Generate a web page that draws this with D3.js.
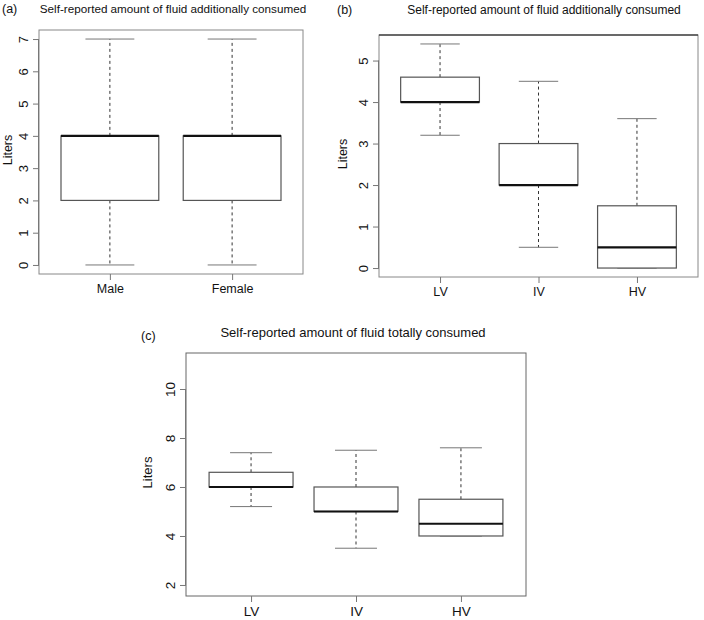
<!DOCTYPE html>
<html>
<head>
<meta charset="utf-8">
<script src="https://cdn.jsdelivr.net/npm/d3@7"></script>
<style>
  html, body { margin: 0; padding: 0; background: #fff; }
  svg text { font-family: "Liberation Sans", Arial, Helvetica, sans-serif; fill: #111; }
</style>
</head>
<body>
<svg id="chart" width="704" height="620"></svg>
<script>
// ---- Data ----
const catsA = ["Male", "Female"];
const minA = [0, 0];
const q1A  = [2, 2];
const medA = [4, 4];
const q3A  = [4, 4];
const maxA = [7, 7];
const ticksA = [0, 1, 2, 3, 4, 5, 6, 7];

const catsB = ["LV", "IV", "HV"];
const minB = [3.2, 0.5, 0];
const q1B  = [4, 2, 0];
const medB = [4, 2, 0.5];
const q3B  = [4.6, 3, 1.5];
const maxB = [5.4, 4.5, 3.6];
const ticksB = [0, 1, 2, 3, 4, 5];

const catsC = ["LV", "IV", "HV"];
const minC = [5.2, 3.5, 4.0];
const q1C  = [6, 5, 4];
const medC = [6, 5, 4.5];
const q3C  = [6.6, 6, 5.5];
const maxC = [7.4, 7.5, 7.6];
const ticksC = [2, 4, 6, 8, 10];

const titleA = "Self-reported amount of fluid additionally consumed";
const titleB = "Self-reported amount of fluid additionally consumed";
const titleC = "Self-reported amount of fluid totally consumed";

const svg = d3.select("#chart");

function panel(opt) {
  const { cats, mins, q1s, meds, q3s, maxs, ticks, ydom, rect, title, tag } = opt;
  const n = cats.length;
  const ext = 0.04 * n;
  const x = d3.scaleLinear().domain([0.5 - ext, n + 0.5 + ext]).range([rect.x0, rect.x1]);
  const y = d3.scaleLinear().domain(ydom).range([rect.y1, rect.y0]);
  const g = svg.append("g");
  const data = cats.map((c, i) => ({ c, i: i + 1, min: mins[i], q1: q1s[i], med: meds[i], q3: q3s[i], max: maxs[i] }));
  const bw = 0.8, sw = 0.4;

  const b = g.selectAll("g.box").data(data).join("g").attr("class", "box");
  b.append("line").attr("x1", d => x(d.i)).attr("x2", d => x(d.i))
    .attr("y1", d => y(d.q3)).attr("y2", d => y(d.max))
    .attr("stroke", "#333").attr("stroke-width", 1).attr("stroke-dasharray", "3,3");
  b.append("line").attr("x1", d => x(d.i)).attr("x2", d => x(d.i))
    .attr("y1", d => y(d.q1)).attr("y2", d => y(d.min))
    .attr("stroke", "#333").attr("stroke-width", 1).attr("stroke-dasharray", "3,3");
  b.append("line").attr("x1", d => x(d.i - sw / 2)).attr("x2", d => x(d.i + sw / 2))
    .attr("y1", d => y(d.max)).attr("y2", d => y(d.max))
    .attr("stroke", "#777").attr("stroke-width", 1);
  b.append("line").attr("x1", d => x(d.i - sw / 2)).attr("x2", d => x(d.i + sw / 2))
    .attr("y1", d => y(d.min)).attr("y2", d => y(d.min))
    .attr("stroke", "#777").attr("stroke-width", 1);
  b.append("rect").attr("x", d => x(d.i - bw / 2)).attr("width", d => x(d.i + bw / 2) - x(d.i - bw / 2))
    .attr("y", d => y(d.q3)).attr("height", d => Math.max(0, y(d.q1) - y(d.q3)))
    .attr("fill", "#fff").attr("stroke", "#555").attr("stroke-width", 1.2);
  b.append("line").attr("x1", d => x(d.i - bw / 2)).attr("x2", d => x(d.i + bw / 2))
    .attr("y1", d => y(d.med)).attr("y2", d => y(d.med))
    .attr("stroke", "#111").attr("stroke-width", 2.2);

  g.append("rect").attr("x", rect.x0).attr("y", rect.y0)
    .attr("width", rect.x1 - rect.x0).attr("height", rect.y1 - rect.y0)
    .attr("fill", "none").attr("stroke", opt.frame || "#888").attr("stroke-width", 1);
  if (opt.topBlack) {
    g.append("line").attr("x1", rect.x0).attr("x2", rect.x1).attr("y1", rect.y0).attr("y2", rect.y0)
      .attr("stroke", "#111").attr("stroke-width", 1.2);
  }

  const ya = g.append("g").attr("transform", `translate(${rect.x0},0)`)
    .call(d3.axisLeft(y).tickValues(ticks).tickSize(6).tickSizeOuter(0).tickFormat(d3.format("d")));
  ya.select(".domain").attr("stroke", "#777").attr("d", `M-0.5,${y(ticks[0])}V${y(ticks[ticks.length - 1])}`);
  ya.selectAll(".tick line").attr("stroke", "#777");
  ya.selectAll(".tick text").attr("transform", "rotate(-90)").attr("x", 0).attr("y", -11)
    .attr("dy", 0).attr("text-anchor", "middle").style("font-size", opt.ytSize + "px")
    .style("font-family", "'Liberation Sans', Arial, sans-serif").attr("fill", "#111");

  const xa = g.append("g").attr("transform", `translate(0,${rect.y1})`)
    .call(d3.axisBottom(x).tickValues(d3.range(1, n + 1)).tickSize(6).tickSizeOuter(0)
      .tickFormat(i => cats[i - 1]));
  xa.select(".domain").attr("stroke", "none");
  xa.selectAll(".tick line").attr("stroke", "#777");
  xa.selectAll(".tick text").attr("y", opt.xtY).attr("dy", 0).style("font-size", opt.xtSize + "px")
    .style("font-family", "'Liberation Sans', Arial, sans-serif").attr("fill", "#111");

  g.append("text").attr("transform", `translate(${opt.ylabX},${(rect.y0 + rect.y1) / 2 - 2}) rotate(-90)`)
    .attr("text-anchor", "middle").attr("dy", "0.35em").style("font-size", opt.labSize + "px").text("Liters");
  g.append("text").attr("x", opt.titleX).attr("y", opt.titleY).attr("text-anchor", "middle")
    .style("font-size", opt.titleSize + "px").text(title);
  g.append("text").attr("x", opt.tagX).attr("y", opt.tagY).style("font-size", "12.5px").text(tag);
}

panel({ cats: catsA, mins: minA, q1s: q1A, meds: medA, q3s: q3A, maxs: maxA, ticks: ticksA,
  ydom: [-0.28, 7.28], rect: { x0: 39, x1: 303, y0: 30, y1: 274 },
  title: titleA, titleX: 173, titleY: 13, titleSize: 11.7, tag: "(a)", tagX: 2, tagY: 13, ylabX: 8,
  ytSize: 13, xtSize: 12.5, xtY: 19, labSize: 12.5 });

panel({ cats: catsB, mins: minB, q1s: q1B, meds: medB, q3s: q3B, maxs: maxB, ticks: ticksB,
  ydom: [-0.216, 5.616], rect: { x0: 379, x1: 698, y0: 35, y1: 277 }, topBlack: true,
  title: titleB, titleX: 544, titleY: 14, titleSize: 12, tag: "(b)", tagX: 337, tagY: 14, ylabX: 343,
  ytSize: 13, xtSize: 12.5, xtY: 19, labSize: 12.5 });

panel({ cats: catsC, mins: minC, q1s: q1C, meds: medC, q3s: q3C, maxs: maxC, ticks: ticksC,
  ydom: [1.55, 11.47], rect: { x0: 186, x1: 526, y0: 353, y1: 596 }, frame: "#666",
  title: titleC, titleX: 353, titleY: 337, titleSize: 13, tag: "(c)", tagX: 141, tagY: 340, ylabX: 147,
  ytSize: 13.5, xtSize: 13.5, xtY: 20, labSize: 13 });
</script>
</body>
</html>
